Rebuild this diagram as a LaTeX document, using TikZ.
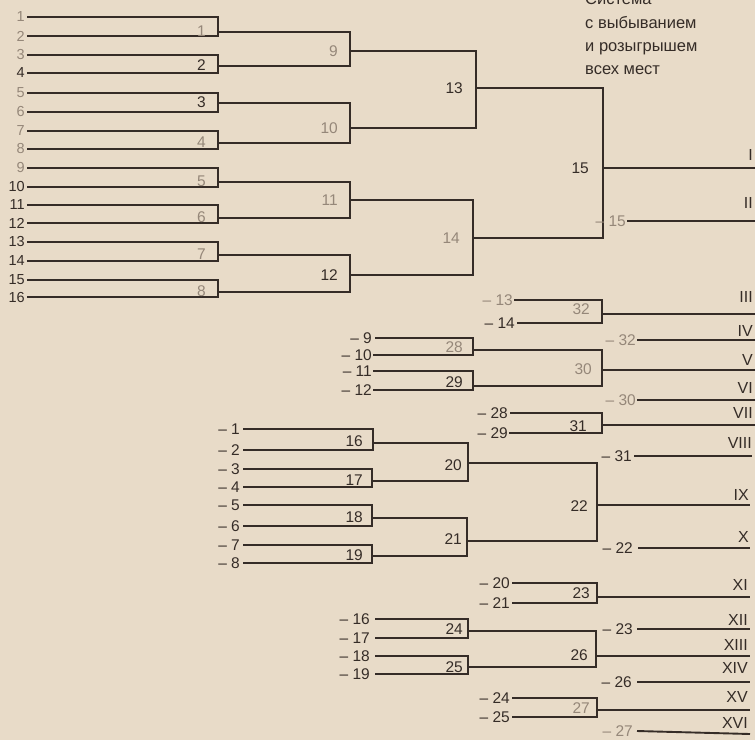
\documentclass[tikz,border=0pt]{standalone}
\usepackage{fontspec}
\setmainfont{Liberation Sans}
\definecolor{paper}{HTML}{E8DBC8}
\definecolor{ink}{HTML}{352C27}
\definecolor{faint}{HTML}{958779}
\begin{document}
\begin{tikzpicture}[x=1pt,y=-1pt,
  ln/.style={draw=ink,line width=1.9pt},
  num/.style={anchor=east,inner sep=0pt,text=ink,font=\fontsize{15.5}{15.5}\selectfont},
  pl/.style={num,font=\fontsize{14.5}{14.5}\selectfont},
  fd/.style={text=faint},
  rom/.style={num,font=\fontsize{16}{16}\selectfont},
  hd/.style={anchor=base west,inner sep=0pt,text=ink,font=\fontsize{16.5}{16.5}\selectfont}]
\fill[paper] (0,0) rectangle (755,740);
\useasboundingbox (0,0) rectangle (755,740);
\clip (0,0) rectangle (755,740);

% header
\node[hd] (h0) at (585,4) {Система};
\node[hd] (h1) at (585,28) {с выбыванием};
\node[hd] (h2) at (585,51) {и розыгрышем};
\node[hd] (h3) at (585,74) {всех мест};

% ---------- main bracket ----------
\foreach \i/\y/\c in {1/17/faint,2/36/faint,3/55/faint,4/73/ink,5/93/faint,6/112/faint,7/131/faint,8/149/faint,
  9/168/faint,10/187/ink,11/205/ink,12/223/ink,13/242/ink,14/261/ink,15/280/ink,16/297/ink}
  \node[pl,text=\c] (p\i) at (25,\y) {\i};
\foreach \k/\y in {1/32,2/66,3/103,4/143,5/182,6/218,7/255,8/292}
  \coordinate (m\k) at (218,\y);
\foreach \k in {1,...,8}{
  \pgfmathtruncatemacro\a{2*\k-1}
  \pgfmathtruncatemacro\b{2*\k}
  \draw[ln] ([xshift=2pt]p\a.east) -| (m\k) |- ([xshift=2pt]p\b.east);
}
\foreach \k/\c in {1/faint,2/ink,3/ink,4/faint,5/faint,6/faint,7/faint,8/faint}
  \node[num,text=\c] (b\k) at ([xshift=-12pt,yshift=1pt]m\k) {\k};

\coordinate (m9) at (350,51);
\coordinate (m10) at (350,128);
\coordinate (m11) at (350,200);
\coordinate (m12) at (350,275);
\draw[ln] (m1) -| (m9) |- (m2);
\draw[ln] (m3) -| (m10) |- (m4);
\draw[ln] (m5) -| (m11) |- (m6);
\draw[ln] (m7) -| (m12) |- (m8);
\node[num,fd] (b9) at ([xshift=-12pt]m9) {9};
\node[num,fd] (b10) at ([xshift=-12pt]m10) {10};
\node[num,fd] (b11) at ([xshift=-12pt]m11) {11};
\node[num] (b12) at ([xshift=-12pt]m12) {12};

\coordinate (m13) at (476,88);
\coordinate (m14) at (473,238);
\draw[ln] (m9) -| (m13) |- (m10);
\draw[ln] (m11) -| (m14) |- (m12);
\node[num] (b13) at ([xshift=-13pt]m13) {13};
\node[num,fd] (b14) at ([xshift=-13pt]m14) {14};

\coordinate (m15) at (603,168);
\draw[ln] (m13) -| (m15) |- (m14);
\node[num] (b15) at ([xshift=-14pt]m15) {15};

\coordinate (eI) at (755,168);
\draw[ln] (m15) -- (eI);
\node[rom] (rI) at (753,155) {I};
\node[num,fd] (l15) at (626,221) {–\;15};
\coordinate (eII) at (755,221);
\draw[ln] ([xshift=1pt]l15.east) -- (eII);
\node[rom] (rII) at (753,203) {II};

% ---------- places 3-8 ----------
\node[num,fd] (l13) at (513,300) {–\;13};
\node[num] (l14) at (515,323) {–\;14};
\coordinate (m32) at (602,314);
\draw[ln] ([xshift=1pt]l13.east) -| (m32) |- ([xshift=2pt]l14.east);
\node[num,fd] (b32) at (590,309) {32};
\coordinate (eIII) at (755,314);
\draw[ln] (m32) -- (eIII);
\node[rom] (rIII) at (753,297) {III};
\node[num,fd] (l32) at (636,340) {–\;32};
\coordinate (eIV) at (755,340);
\draw[ln] ([xshift=1pt]l32.east) -- (eIV);
\node[rom] (rIV) at (753,331) {IV};

\node[num] (l9) at (372,338) {–\;9};
\node[num] (l10) at (372,355) {–\;10};
\node[num] (l11) at (372,371) {–\;11};
\node[num] (l12) at (372,390) {–\;12};
\coordinate (m28) at (473,350);
\coordinate (m29) at (473,386);
\draw[ln] ([xshift=3pt]l9.east) -| (m28) |- ([xshift=1pt]l10.east);
\draw[ln] ([xshift=1pt]l11.east) -| (m29) |- ([xshift=1pt]l12.east);
\node[num,fd] (b28) at (463,347) {28};
\node[num] (b29) at (463,382) {29};
\coordinate (m30) at (602,370);
\draw[ln] (m28) -| (m30) |- (m29);
\node[num,fd] (b30) at (592,369) {30};
\coordinate (eV) at (755,370);
\draw[ln] (m30) -- (eV);
\node[rom] (rV) at (753,360) {V};
\node[num,fd] (l30) at (636,400) {–\;30};
\coordinate (eVI) at (755,400);
\draw[ln] ([xshift=1pt]l30.east) -- (eVI);
\node[rom] (rVI) at (753,388) {VI};

\node[num] (l28) at (508,413) {–\;28};
\node[num] (l29) at (508,433) {–\;29};
\coordinate (m31) at (602,425);
\draw[ln] ([xshift=2pt]l28.east) -| (m31) |- ([xshift=1pt]l29.east);
\node[num] (b31) at (587,426) {31};
\coordinate (eVII) at (755,425);
\draw[ln] (m31) -- (eVII);
\node[rom] (rVII) at (753,413) {VII};
\node[num] (l31) at (632,456) {–\;31};
\coordinate (eVIII) at (752,456);
\draw[ln] ([xshift=2pt]l31.east) -- (eVIII);
\node[rom] (rVIII) at (752,443) {VIII};

% ---------- places 9-16 ----------
\foreach \i/\y in {1/429,2/450,3/469,4/487,5/505,6/526,7/545,8/563}
  \node[num] (q\i) at (240,\y) {–\;\i};
\coordinate (m16) at (373,443);
\coordinate (m17) at (372,481);
\coordinate (m18) at (372,518);
\coordinate (m19) at (372,556);
\draw[ln] ([xshift=3pt]q1.east) -| (m16) |- ([xshift=3pt]q2.east);
\draw[ln] ([xshift=3pt]q3.east) -| (m17) |- ([xshift=3pt]q4.east);
\draw[ln] ([xshift=3pt]q5.east) -| (m18) |- ([xshift=3pt]q6.east);
\draw[ln] ([xshift=3pt]q7.east) -| (m19) |- ([xshift=3pt]q8.east);
\node[num] (b16) at (363,441) {16};
\node[num] (b17) at (363,480) {17};
\node[num] (b18) at (363,517) {18};
\node[num] (b19) at (363,555) {19};
\coordinate (m20) at (468,463);
\coordinate (m21) at (467,541);
\draw[ln] (m16) -| (m20) |- (m17);
\draw[ln] (m18) -| (m21) |- (m19);
\node[num] (b20) at (462,465) {20};
\node[num] (b21) at (462,539) {21};
\coordinate (m22) at (597,505);
\draw[ln] (m20) -| (m22) |- (m21);
\node[num] (b22) at (588,506) {22};
\coordinate (eIX) at (750,505);
\draw[ln] (m22) -- (eIX);
\node[rom] (rIX) at (749,495) {IX};
\node[num] (l22) at (633,548) {–\;22};
\coordinate (eX) at (750,548);
\draw[ln] ([xshift=5pt]l22.east) -- (eX);
\node[rom] (rX) at (749,537) {X};

\node[num] (l20) at (510,583) {–\;20};
\node[num] (l21) at (510,603) {–\;21};
\coordinate (m23) at (597,597);
\draw[ln] ([xshift=2pt]l20.east) -| (m23) |- ([xshift=2pt]l21.east);
\node[num] (b23) at (590,593) {23};
\coordinate (eXI) at (750,597);
\draw[ln] (m23) -- (eXI);
\node[rom] (rXI) at (748,585) {XI};
\node[num] (l23) at (633,629) {–\;23};
\coordinate (eXII) at (750,629);
\draw[ln] ([xshift=4pt]l23.east) -- (eXII);
\node[rom] (rXII) at (748,620) {XII};

\node[num] (l16) at (370,619) {–\;16};
\node[num] (l17) at (370,638) {–\;17};
\node[num] (l18) at (370,656) {–\;18};
\node[num] (l19) at (370,674) {–\;19};
\coordinate (m24) at (468,631);
\coordinate (m25) at (468,667);
\draw[ln] ([xshift=5pt]l16.east) -| (m24) |- ([xshift=5pt]l17.east);
\draw[ln] ([xshift=5pt]l18.east) -| (m25) |- ([xshift=5pt]l19.east);
\node[num] (b24) at (463,629) {24};
\node[num] (b25) at (463,667) {25};
\coordinate (m26) at (596,656);
\draw[ln] (m24) -| (m26) |- (m25);
\node[num] (b26) at (588,655) {26};
\coordinate (eXIII) at (750,656);
\draw[ln] (m26) -- (eXIII);
\node[rom] (rXIII) at (748,645) {XIII};
\node[num] (l26) at (632,682) {–\;26};
\coordinate (eXIV) at (750,682);
\draw[ln] ([xshift=5pt]l26.east) -- (eXIV);
\node[rom] (rXIV) at (748,668) {XIV};

\node[num] (l24) at (510,698) {–\;24};
\node[num] (l25) at (510,717) {–\;25};
\coordinate (m27) at (597,710);
\draw[ln] ([xshift=2pt]l24.east) -| (m27) |- ([xshift=2pt]l25.east);
\node[num,fd] (b27) at (590,708) {27};
\coordinate (eXV) at (750,710);
\draw[ln] (m27) -- (eXV);
\node[rom] (rXV) at (748,697) {XV};
\node[num,fd] (l27) at (633,731) {–\;27};
\coordinate (eXVI) at (750,734);
\draw[ln] ([xshift=4pt]l27.east) -- (eXVI);
\node[rom] (rXVI) at (748,723) {XVI};
\end{tikzpicture}
\end{document}
